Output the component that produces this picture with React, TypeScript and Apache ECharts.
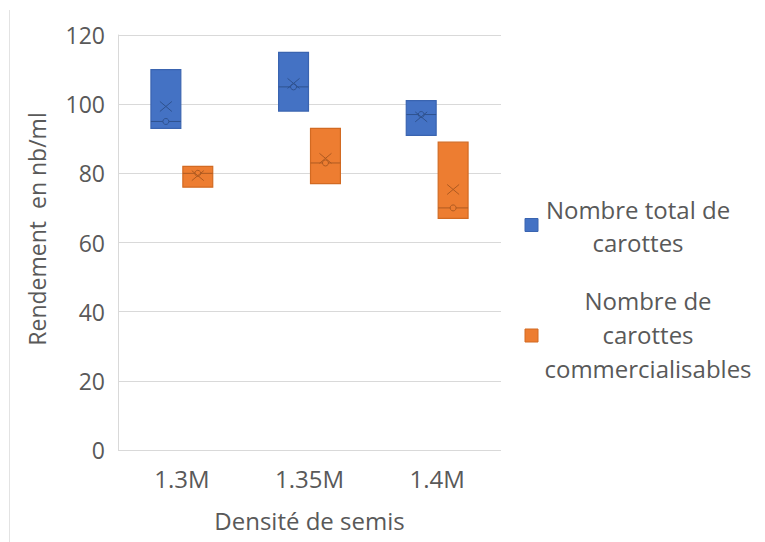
import React, { useEffect, useRef } from "react";
import * as echarts from "echarts";

// ---- data ----
const categories = ["1.3M", "1.35M", "1.4M"];
const totalPoints = [
  [93, 95, 110],
  [98, 105, 115],
  [91, 97, 101],
];
const commercialPoints = [
  [76, 80, 82],
  [77, 83, 93],
  [67, 70, 89],
];
const seriesNames = ["Nombre total de carottes", "Nombre de carottes commercialisables"];
const legendLines = [
  "Nombre total de\ncarottes",
  "Nombre de\ncarottes\ncommercialisables",
];
const yTicks = { min: 0, max: 120, interval: 20 };

const FONT = "'Open Sans', sans-serif";
const TEXT = "#595959";
const GRID = "#d9d9d9";

const BLUE = { fill: "#4472C4", stroke: "#3A64B0", dark: "#2F528F" };
const ORANGE = { fill: "#ED7D31", stroke: "#D26A22", dark: "#AE5A21" };

function stats(points: number[][]) {
  return points.map((p, i) => {
    const s = [...p].sort((a, b) => a - b);
    const mean = s.reduce((a, b) => a + b, 0) / s.length;
    return [i, s[0], s[Math.floor(s.length / 2)], s[s.length - 1], mean];
  });
}

function makeRender(points: number[][], offsetFrac: number, col: typeof BLUE) {
  return (params: any, api: any) => {
    const cat = api.value(0);
    const minV = api.value(1);
    const medV = api.value(2);
    const maxV = api.value(3);
    const meanV = api.value(4);
    const band = api.size([1, 0])[0];
    const cx = api.coord([cat, 0])[0] + offsetFrac * band;
    const w = band * 0.234;
    const yTop = api.coord([cat, maxV])[1];
    const yBot = api.coord([cat, minV])[1];
    const yMed = api.coord([cat, medV])[1];
    const yMean = api.coord([cat, meanV])[1];
    const children: any[] = [
      {
        type: "rect",
        shape: { x: cx - w / 2, y: yTop, width: w, height: yBot - yTop },
        style: { fill: col.fill, stroke: col.stroke, lineWidth: 1.2 },
      },
      {
        type: "line",
        shape: { x1: cx - w / 2, y1: yMed, x2: cx + w / 2, y2: yMed },
        style: { stroke: col.dark, lineWidth: 1 },
      },
    ];
    const pts = points[params.dataIndex];
    pts.forEach((v) => {
      if (v > minV && v < maxV) {
        const yy = api.coord([cat, v])[1];
        children.push({
          type: "circle",
          shape: { cx, cy: yy, r: 3 },
          style: { fill: col.fill, stroke: col.dark, lineWidth: 1 },
        });
      }
    });
    const dx = 6, dy = 5;
    children.push(
      {
        type: "line",
        shape: { x1: cx - dx, y1: yMean - dy, x2: cx + dx, y2: yMean + dy },
        style: { stroke: col.dark, lineWidth: 1 },
      },
      {
        type: "line",
        shape: { x1: cx - dx, y1: yMean + dy, x2: cx + dx, y2: yMean - dy },
        style: { stroke: col.dark, lineWidth: 1 },
      }
    );
    return { type: "group", children };
  };
}

export default function App() {
  const ref = useRef<HTMLDivElement>(null);
  useEffect(() => {
    if (!ref.current) return;
    const chart = echarts.init(ref.current, null, { renderer: "svg" });
    chart.setOption({
      animation: false,
      backgroundColor: "#ffffff",
      textStyle: { fontFamily: FONT },
      grid: { left: 118, right: 264, top: 35, bottom: 92 },
      xAxis: {
        type: "category",
        data: categories,
        name: "Densité de semis",
        nameLocation: "middle",
        nameGap: 58,
        nameTextStyle: { fontSize: 24, color: TEXT, fontFamily: FONT },
        axisLine: { show: false },
        axisTick: { show: false },
        axisLabel: { fontSize: 24, color: TEXT, margin: 16, fontFamily: FONT },
        splitLine: { show: false },
      },
      yAxis: {
        type: "value",
        min: yTicks.min,
        max: yTicks.max,
        interval: yTicks.interval,
        name: "Rendement  en nb/ml",
        nameLocation: "middle",
        nameGap: 70,
        nameTextStyle: { fontSize: 23, color: TEXT, fontFamily: FONT, padding: [0, 0, 0, 27] },
        axisLine: { show: true, lineStyle: { color: GRID, width: 1 } },
        axisTick: { show: false },
        axisLabel: { fontSize: 23, color: TEXT, margin: 13, fontFamily: FONT },
        splitLine: { show: true, lineStyle: { color: GRID, width: 1 } },
      },
      series: [
        {
          name: seriesNames[0],
          type: "custom",
          data: stats(totalPoints),
          encode: { x: 0, y: [1, 2, 3, 4] },
          renderItem: makeRender(totalPoints, -0.125, BLUE),
        },
        {
          name: seriesNames[1],
          type: "custom",
          data: stats(commercialPoints),
          encode: { x: 0, y: [1, 2, 3, 4] },
          renderItem: makeRender(commercialPoints, 0.125, ORANGE),
        },
      ],
      graphic: [
        {
          type: "line",
          shape: { x1: 9.5, y1: 10, x2: 9.5, y2: 542 },
          style: { stroke: "#e3e3e3", lineWidth: 1 },
        },
        {
          type: "rect",
          shape: { x: 525, y: 218.5, width: 13, height: 13 },
          style: { fill: BLUE.fill, stroke: BLUE.stroke, lineWidth: 1 },
        },
        {
          type: "text",
          x: 638,
          y: 226,
          style: {
            text: legendLines[0],
            font: `24px ${FONT}`,
            fill: TEXT,
            align: "center",
            verticalAlign: "middle",
            lineHeight: 33,
          },
        },
        {
          type: "rect",
          shape: { x: 525, y: 329, width: 13, height: 13 },
          style: { fill: ORANGE.fill, stroke: ORANGE.stroke, lineWidth: 1 },
        },
        {
          type: "text",
          x: 648,
          y: 334,
          style: {
            text: legendLines[1],
            font: `24px ${FONT}`,
            fill: TEXT,
            align: "center",
            verticalAlign: "middle",
            lineHeight: 34,
          },
        },
      ],
    });
    return () => chart.dispose();
  }, []);
  return (
    <div
      ref={ref}
      style={{ position: "absolute", left: 0, top: 0, width: 765, height: 542 }}
    />
  );
}
